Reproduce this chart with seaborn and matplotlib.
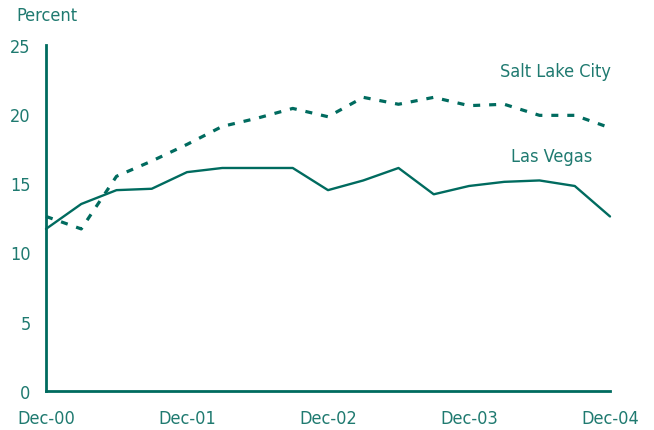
import pandas as pd
import seaborn as sns
import matplotlib.pyplot as plt


# ---------------------------------------------------------------------------
# Data (quarterly, Dec-00 .. Dec-04)
# ---------------------------------------------------------------------------

quarters = list(range(17))

las_vegas = [11.7, 13.5, 14.5, 14.6, 15.8, 16.1, 16.1, 16.1, 14.5,
             15.2, 16.1, 14.2, 14.8, 15.1, 15.2, 14.8, 12.6]

salt_lake_city = [12.6, 11.7, 15.5, 16.6, 17.8, 19.1, 19.7, 20.4, 19.8,
                  21.2, 20.7, 21.2, 20.6, 20.7, 19.9, 19.9, 19.0]

tick_pos = [0, 4, 8, 12, 16]
tick_labels = ["Dec-00", "Dec-01", "Dec-02", "Dec-03", "Dec-04"]


# ---------------------------------------------------------------------------
# Build long table
# ---------------------------------------------------------------------------

df = pd.DataFrame({
    "quarter": quarters * 2,
    "value": las_vegas + salt_lake_city,
    "city": ["Las Vegas"] * 17 + ["Salt Lake City"] * 17,
})

teal = "#006b5f"
text_teal = "#1f7a70"

sns.set_style("white")
plt.rcParams["font.family"] = ["DejaVu Sans"]
plt.rcParams["font.stretch"] = "condensed"

fig = plt.figure(figsize=(6.54, 4.31), dpi=100)
ax = fig.add_axes([46 / 654, 1 - 392 / 431, (610 - 46) / 654, (392 - 45.7) / 431])

sns.lineplot(data=df, x="quarter", y="value", hue="city", style="city",
             palette=[teal, teal], dashes=[(None, None), (2.2, 2.8)],
             linewidth=1.7, legend=False, ax=ax)

# thicker dashes for the Salt Lake City series
ax.lines[1].set_linewidth(2.3)

ax.set_xlim(0, 16)
ax.set_ylim(0, 25)
ax.set_xticks(tick_pos)
ax.set_xticklabels(tick_labels)
ax.set_yticks([0, 5, 10, 15, 20, 25])
ax.set_xlabel("")
ax.set_ylabel("")

for side in ["top", "right"]:
    ax.spines[side].set_visible(False)
for side in ["left", "bottom"]:
    ax.spines[side].set_color(teal)
    ax.spines[side].set_linewidth(2)

ax.tick_params(axis="both", colors=teal, labelcolor=text_teal, labelsize=13,
               length=5, width=2, direction="out")
ax.tick_params(axis="x", pad=8)
ax.tick_params(axis="y", pad=6)

ax.text(16 / 654, 1 - 16 / 431, "Percent", transform=fig.transFigure,
        color=text_teal, fontsize=13, ha="left", va="center")

ax.text(14.44, 23.1, "Salt Lake City", color=text_teal, fontsize=13, ha="center", va="center")
ax.text(14.34, 16.95, "Las Vegas", color=text_teal, fontsize=13, ha="center", va="center")

for ln in ax.lines:
    ln.set_clip_on(False)

fig.savefig("out.png", dpi=100)
